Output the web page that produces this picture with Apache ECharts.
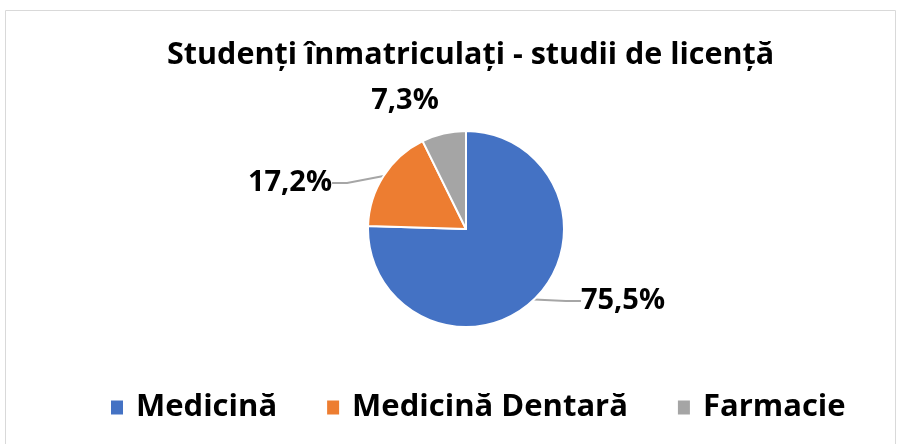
<!DOCTYPE html>
<html>
<head>
<meta charset="utf-8">
<script src="https://cdn.jsdelivr.net/npm/echarts@6/dist/echarts.min.js"></script>
<style>
  html, body { margin: 0; padding: 0; background: #fff; }
  #chart { width: 909px; height: 444px; }
</style>
</head>
<body>
<div id="chart"></div>
<script>
// date
var categories = ['Medicină', 'Medicină Dentară', 'Farmacie'];
var values = [75.5, 17.2, 7.3];
var colors = ['#4472C4', '#ED7D31', '#A5A5A5'];

// centrele etichetelor (x, y)
var labelPos = [[623, 301], [290, 183], [405, 101]];

var myChart = echarts.init(document.getElementById('chart'));

var font = 'Open Sans';

option = {
  color: colors,
  textStyle: { fontFamily: font },
  title: {
    text: 'Studenți înmatriculați - studii de licență',
    left: 162,
    top: 35,
    textStyle: { fontFamily: font, fontSize: 30.5, fontWeight: 'bold', color: '#000' }
  },
  legend: {
    data: categories,
    top: 387,
    left: 104,
    icon: 'rect',
    itemWidth: 14,
    itemHeight: 16,
    itemGap: 48,
    textStyle: { fontFamily: font, fontSize: 31, fontWeight: 'bold', color: '#000', padding: [0, 0, 0, 7] }
  },
  graphic: [{
    type: 'rect',
    shape: { x: 5.5, y: 10.5, width: 890, height: 440 },
    style: { fill: 'none', stroke: '#D9D9D9', lineWidth: 1 }
  }],
  series: [{
    type: 'pie',
    center: [466, 229],
    radius: 98,
    startAngle: 90,
    clockwise: true,
    animation: false,
    itemStyle: { borderColor: '#fff', borderWidth: 2 },
    label: {
      fontFamily: font,
      fontSize: 29,
      fontWeight: 'bold',
      color: '#000',
      formatter: function (p) { return p.value.toFixed(1).replace('.', ',') + '%'; }
    },
    labelLine: {
      length: 20,
      length2: 15,
      lineStyle: { color: '#A6A6A6', width: 2 }
    },
    labelLayout: function (p) {
      var pos = labelPos[p.dataIndex];
      return { x: pos[0], y: pos[1], align: 'center', verticalAlign: 'middle' };
    },
    data: categories.map(function (c, i) {
      var d = { name: c, value: values[i] };
      if (i === 2) {
        d.labelLine = { show: false };
      }
      return d;
    })
  }]
};

myChart.setOption(option);
</script>
</body>
</html>
